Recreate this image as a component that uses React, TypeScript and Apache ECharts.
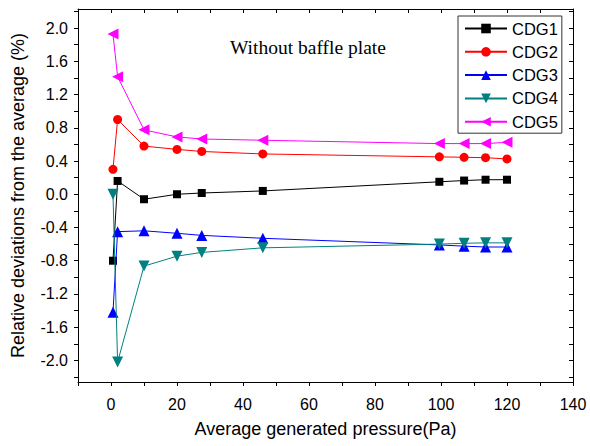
import React, { useEffect, useRef } from "react";
import * as echarts from "echarts";

// Shared x positions (average generated pressure, Pa)
const pressures = [0.6, 2, 10, 20, 27.5, 46, 99.5, 107, 113.5, 120];

// Relative deviations from the average (%)
const cdg1 = [-0.8, 0.16, -0.06, 0.0, 0.015, 0.04, 0.15, 0.165, 0.175, 0.175];
const cdg2 = [0.3, 0.9, 0.58, 0.54, 0.515, 0.485, 0.45, 0.445, 0.44, 0.425];
const cdg3 = [-1.42, -0.45, -0.44, -0.47, -0.495, -0.53, -0.61, -0.625, -0.635, -0.635];
const cdg4 = [0.0, -2.02, -0.865, -0.745, -0.7, -0.645, -0.6, -0.59, -0.585, -0.585];
const cdg5 = [1.93, 1.415, 0.775, 0.69, 0.665, 0.65, 0.61, 0.61, 0.61, 0.625];

const seriesNames = ["CDG1", "CDG2", "CDG3", "CDG4", "CDG5"];
const seriesColors = ["#000000", "#ff0000", "#0000ff", "#008080", "#ff00ff"];
const seriesSymbols = ["rect", "circle", "triangle", "triangle", "triangle"];
const seriesRotations = [0, 0, 0, 180, 90];
const seriesSizes = [8, 9, 11, 11, 11];

const yLabelValues = [-2.0, -1.6, -1.2, -0.8, -0.4, 0.0, 0.4, 0.8, 1.2, 1.6, 2.0];
const yTickValues = [-2.2, -2.0, -1.8, -1.6, -1.4, -1.2, -1.0, -0.8, -0.6, -0.4, -0.2, 0.0, 0.2, 0.4, 0.6, 0.8, 1.0, 1.2, 1.4, 1.6, 1.8, 2.0, 2.2];
const xMin = -10;
const xMax = 140;
const yMin = -2.26;
const yMax = 2.23;

const annotation = "Without baffle plate";
const xTitle = "Average generated pressure(Pa)";
const yTitle = "Relative deviations from the average (%)";

const SANS = "Liberation Sans, Arial, sans-serif";

export default function App() {
  const ref = useRef<HTMLDivElement>(null);
  useEffect(() => {
    if (!ref.current) return;
    const chart = echarts.init(ref.current, null, { renderer: "svg" });
    const allData = [cdg1, cdg2, cdg3, cdg4, cdg5];
    const axisLine = { show: true, onZero: false, lineStyle: { color: "#000", width: 1 } };
    const option: any = {
      animation: false,
      backgroundColor: "#ffffff",
      title: {
        text: annotation,
        left: 230,
        top: 37,
        padding: 0,
        textStyle: { fontFamily: "Liberation Serif, Times New Roman, serif", fontSize: 19.5, fontWeight: "normal", color: "#000" },
      },
      grid: { left: 78, right: 17, top: 9, bottom: 64, containLabel: false },
      legend: {
        orient: "vertical",
        left: 458,
        top: 16,
        padding: [4, 4, 3, 6],
        itemGap: 6.3,
        itemWidth: 42,
        itemHeight: 12,
        itemTextGap: 5,
        borderColor: "#333",
        borderWidth: 1,
        backgroundColor: "#fff",
        data: seriesNames,
        textStyle: { fontFamily: SANS, fontSize: 16.5, color: "#000", lineHeight: 16 },
      },
      xAxis: [
        {
          type: "value",
          position: "bottom",
          min: xMin,
          max: xMax,
          interval: 10,
          axisLine,
          axisTick: { show: true, inside: false, length: 4, lineStyle: { color: "#000" } },
          axisLabel: {
            margin: 14,
            fontFamily: SANS,
            fontSize: 16,
            color: "#000",
            formatter: (v: number) => (v % 20 === 0 && v >= 0 ? String(v) : ""),
          },
          splitLine: { show: false },
          name: xTitle,
          nameLocation: "middle",
          nameGap: 38,
          nameTextStyle: { fontFamily: SANS, fontSize: 18, color: "#000" },
        },
        {
          type: "value",
          position: "top",
          min: xMin,
          max: xMax,
          interval: 10,
          axisLine,
          axisTick: { show: true, inside: true, length: 4, lineStyle: { color: "#000" } },
          axisLabel: { show: false },
          splitLine: { show: false },
        },
      ],
      yAxis: [
        {
          type: "value",
          position: "left",
          min: yMin,
          max: yMax,
          axisLine,
          axisTick: { show: true, inside: false, length: 4, customValues: yTickValues, lineStyle: { color: "#000" } },
          axisLabel: {
            customValues: yLabelValues,
            margin: 10,
            fontFamily: SANS,
            fontSize: 16,
            color: "#000",
            formatter: (v: number) => v.toFixed(1),
          },
          splitLine: { show: false },
          name: yTitle,
          nameLocation: "middle",
          nameRotate: 90,
          nameGap: 51,
          nameTextStyle: { fontFamily: SANS, fontSize: 18, color: "#000" },
        },
        {
          type: "value",
          position: "right",
          min: yMin,
          max: yMax,
          axisLine,
          axisTick: { show: true, inside: true, length: 4, customValues: yTickValues, lineStyle: { color: "#000" } },
          axisLabel: { show: false },
          splitLine: { show: false },
        },
      ],
      series: seriesNames.map((name, i) => ({
        name,
        type: "line",
        xAxisIndex: 0,
        yAxisIndex: 0,
        data: pressures.map((x, j) => [x, allData[i][j]]),
        symbol: seriesSymbols[i],
        symbolRotate: seriesRotations[i],
        symbolSize: seriesSizes[i],
        showAllSymbol: true,
        lineStyle: { color: seriesColors[i], width: 1 },
        itemStyle: { color: seriesColors[i] },
        z: 2 + i,
      })),
    };
    chart.setOption(option);
    return () => chart.dispose();
  }, []);
  return (
    <div
      ref={ref}
      style={{ position: "absolute", left: 0, top: 0, width: 590, height: 446 }}
    />
  );
}
